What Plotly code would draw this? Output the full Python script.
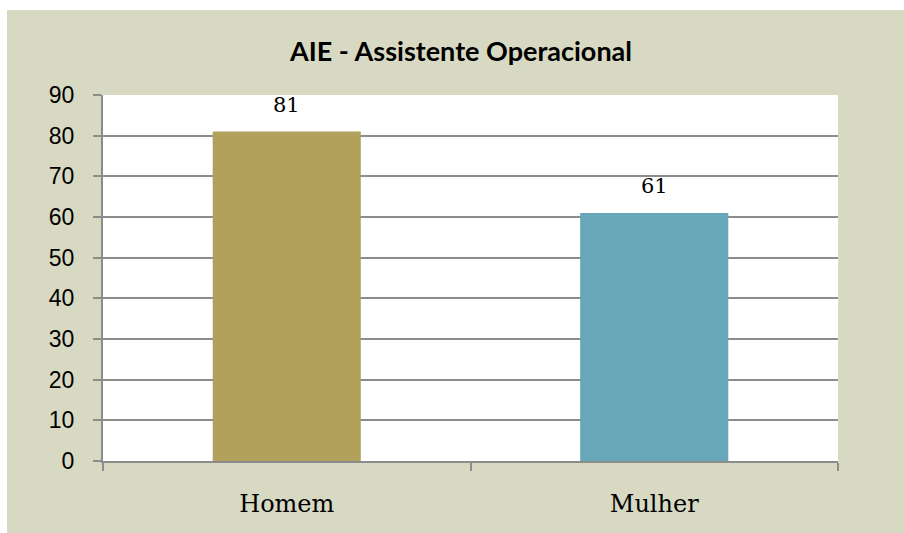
import plotly.graph_objects as go

categories = ["Homem", "Mulher"]
values = [81, 61]
bar_colors = ["#b2a15b", "#66a7b9"]
y_ticks = [0, 10, 20, 30, 40, 50, 60, 70, 80, 90]
title_text = "AIE - Assistente Operacional"

W, H = 904, 533
L, R, T, B = 103, 66, 95, 72
pw, ph = W - L - R, H - T - B

def px_x(p):
    return (p - L) / pw

def px_y(p):
    return (H - B - p) / ph

fig = go.Figure()
fig.add_trace(go.Bar(
    x=categories, y=values,
    marker=dict(color=bar_colors, line=dict(width=0)),
    width=0.403,
    hoverinfo="skip",
))

for c, v in zip(categories, values):
    fig.add_annotation(x=c, y=v, text=str(v), showarrow=False,
                       yanchor="bottom", yshift=13,
                       font=dict(family="DejaVu Serif", size=21, color="#000"))

bg = "#d8d9c2"
fig.update_layout(
    width=W, height=H,
    margin=dict(l=L, r=R, t=T, b=B),
    paper_bgcolor=bg,
    plot_bgcolor="#ffffff",
    showlegend=False,
    title=dict(text="<b>" + title_text + "</b>", x=px_x(461), xref="paper", xanchor="center",
               y=1 - 52 / H, yanchor="middle",
               font=dict(family="Lato", size=27, color="#000")),
    bargap=0.6,
    shapes=[
        dict(type="rect", xref="paper", yref="paper", x0=px_x(-2), x1=px_x(910),
             y0=px_y(10), y1=px_y(-2), fillcolor="#ffffff", line=dict(width=0), layer="above"),
        dict(type="rect", xref="paper", yref="paper", x0=px_x(-2), x1=px_x(7),
             y0=px_y(540), y1=px_y(-2), fillcolor="#ffffff", line=dict(width=0), layer="above"),
    ],
)

fig.update_yaxes(
    range=[0, 90], tickvals=y_ticks, ticktext=[str(t) for t in y_ticks],
    showgrid=True, gridcolor="#8c8c8c", gridwidth=2,
    showline=True, linecolor="#8c8c8c", linewidth=2,
    ticks="outside", ticklen=8, tickcolor="#8c8c8c", tickwidth=2,
    ticklabelstandoff=14,
    tickfont=dict(family="Liberation Sans", size=23, color="#000"),
    zeroline=False, fixedrange=True,
)
fig.update_xaxes(
    showline=True, linecolor="#8c8c8c", linewidth=2,
    ticks="outside", ticklen=8, tickcolor="#8c8c8c", tickwidth=2,
    tickson="boundaries", ticklabelstandoff=20,
    tickfont=dict(family="DejaVu Serif", size=24, color="#000"),
    showgrid=False, fixedrange=True,
)

fig.write_html("out.html", config={"displayModeBar": False},
               post_script=("document.body.style.margin='0';document.body.style.overflow='hidden';"
                            "document.body.style.background='" + bg + "';"
                            "document.documentElement.style.background='" + bg + "';"))
